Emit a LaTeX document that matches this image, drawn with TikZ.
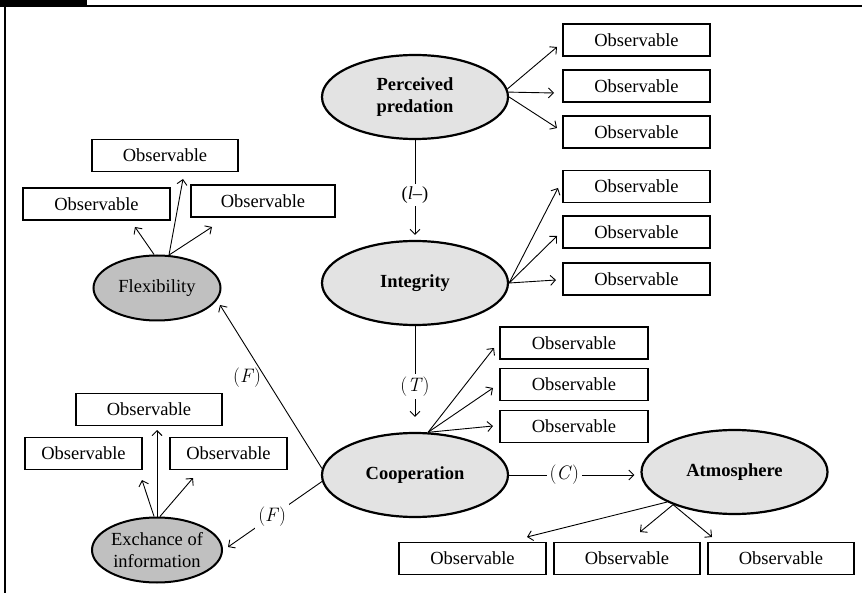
\documentclass[tikz,border=0pt]{standalone}
\usepackage{fontspec}
\setmainfont{Liberation Serif}
\newfontfamily\lmfont{Latin Modern Roman}
\usetikzlibrary{shapes.geometric,arrows.meta}
\newcommand\obsfont{\fontsize{18.5}{22}\selectfont}
\newcommand\mlab[1]{{\lmfont\fontsize{19.5}{22}\selectfont(\textit{#1})}}
\definecolor{latfill}{HTML}{E3E3E3}
\definecolor{subfill}{HTML}{C0C0C0}
\begin{document}
\begin{tikzpicture}[x=1pt,y=-1pt,
  lat/.style={ellipse,draw,line width=2.2pt,fill=latfill,minimum width=186pt,minimum height=84pt,inner sep=0pt,align=center,font=\bfseries\obsfont},
  sub/.style={ellipse,draw,line width=2pt,fill=subfill,minimum width=127pt,minimum height=65pt,inner sep=0pt,align=center,font=\obsfont},
  obs/.style={draw,line width=1.6pt,minimum height=32pt,minimum width=147pt,inner sep=0pt,font=\obsfont},
  arr/.style={line width=0.9pt,-{Straight Barb[length=5pt,width=10pt]}},
  lab/.style={font=\obsfont,fill=white,inner sep=3pt}]
\useasboundingbox (0,0) rectangle (862,593);
% frame
\fill[black] (0,0) rectangle (87,6);
\draw[line width=2pt] (0,6.5) -- (862,6.5);
\draw[line width=2pt] (5,6.5) -- (5,593);
% latent variables
\node[lat] (pp) at (415,97) {Perceived\\predation};
\node[lat] (int) at (415,283) {Integrity};
\node[lat] (coop) at (415,475) {Cooperation};
\node[lat] (atm) at (734.5,472) {Atmosphere};
\node[sub] (flex) at (157,288) {Flexibility};
\node[sub] (exch) at (157,550) {Exchance of\\information};
% observables
\node[obs] (p1) at (636.5,40) {Observable};
\node[obs] (p2) at (636.5,86) {Observable};
\node[obs] (p3) at (636.5,132) {Observable};
\node[obs] (i1) at (636.5,186.5) {Observable};
\node[obs] (i2) at (636.5,232) {Observable};
\node[obs] (i3) at (636.5,279) {Observable};
\node[obs,minimum width=148pt] (c1) at (574,343) {Observable};
\node[obs,minimum width=148pt] (c2) at (574,384.5) {Observable};
\node[obs,minimum width=148pt] (c3) at (574,426.5) {Observable};
\node[obs] (a1) at (472.5,558.5) {Observable};
\node[obs,minimum width=146pt] (a2) at (627,558.5) {Observable};
\node[obs,minimum width=146pt] (a3) at (781,558.5) {Observable};
\node[obs,minimum width=146pt] (f1) at (165,155.5) {Observable};
\node[obs] (f2) at (96.5,204) {Observable};
\node[obs,minimum width=144pt] (f3) at (263,201) {Observable};
\node[obs,minimum width=146pt] (e1) at (149,409.5) {Observable};
\node[obs,minimum width=117pt] (e2) at (83.5,453.5) {Observable};
\node[obs,minimum width=117pt] (e3) at (228.5,453.5) {Observable};
% arrow tips
\coordinate (tp1) at (557,47);
\coordinate (tp2) at (554,93);
\coordinate (tp3) at (557,128);
\coordinate (ti1) at (558,188);
\coordinate (ti2) at (557,236);
\coordinate (ti3) at (556,280);
\coordinate (tc1) at (494,348);
\coordinate (tc2) at (493,388);
\coordinate (tc3) at (493,426);
\coordinate (ta1) at (527,537);
\coordinate (ta2) at (640,532);
\coordinate (ta3) at (712,537);
\coordinate (tf1) at (183,179);
\coordinate (tf2) at (135,227);
\coordinate (tf3) at (212,227);
\coordinate (te1) at (157,430);
\coordinate (te2) at (142,480);
\coordinate (te3) at (193,478);
\coordinate (tflex) at (220,305);
\coordinate (texch) at (228,547);
% measurement arrows
\draw[arr] (pp.5) -- (tp1);
\draw[arr] (pp.3) -- (tp2);
\draw[arr] (pp.0) -- (tp3);
\draw[arr] (int.east) -- (ti1);
\draw[arr] (int.east) -- (ti2);
\draw[arr] (int.east) -- (ti3);
\draw[arr] (coop.73) -- (tc1);
\draw[arr] (coop.73) -- (tc2);
\draw[arr] (coop.73) -- (tc3);
\draw[arr] (atm.204) -- (ta1);
\draw[arr] (atm.208) -- (ta2);
\draw[arr] (atm.208) -- (ta3);
\draw[arr] (flex.70) -- (tf1);
\draw[arr] (flex.95) -- (tf2);
\draw[arr] (flex.70) -- (tf3);
\draw[arr] (exch.90) -- (te1);
\draw[arr] (exch.95) -- (te2);
\draw[arr] (exch.85) -- (te3);
% structural arrows
\draw[arr,shorten >=5pt] (pp.south) -- node[lab,pos=0.55] {(\textit{l}–)} (int.north);
\draw[arr,shorten >=15pt] (int.south) -- node[lab,pos=0.57] {\mlab{T}} (coop.north);
\draw[arr,shorten >=6pt] (coop.east) -- node[lab,pos=0.42] {\mlab{C}} (coop.east -| atm.west);
\draw[arr] (coop.176) -- (tflex);
\node (fl1) at (247,378) {\mlab{F}};
\draw[arr] (coop.184) -- node[lab,pos=0.53] {\mlab{F}} (texch);
\end{tikzpicture}
\end{document}
